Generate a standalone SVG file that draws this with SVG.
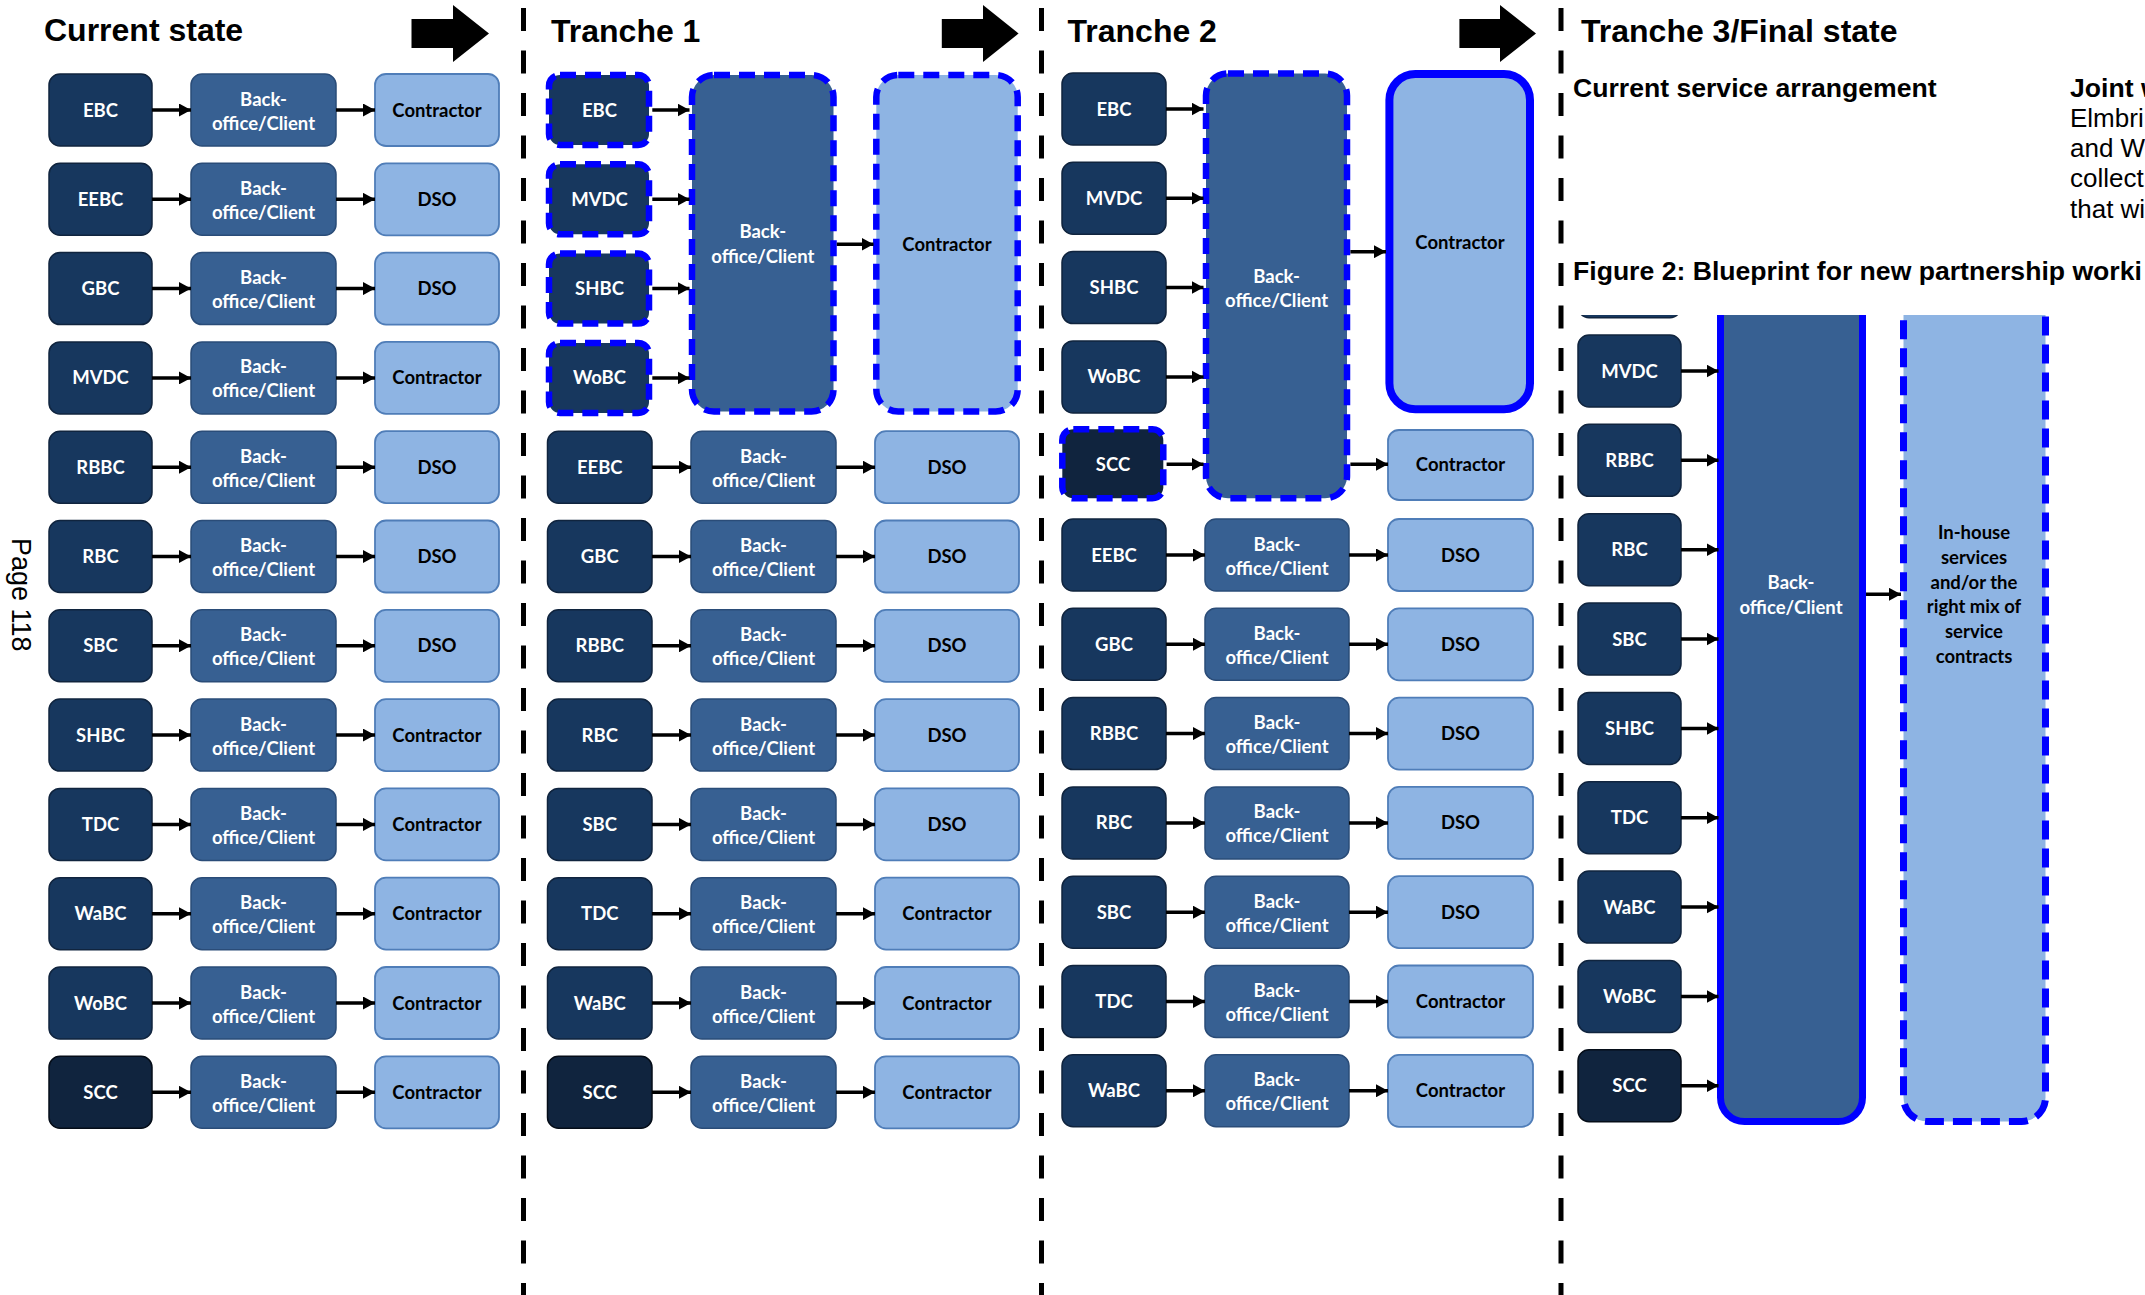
<svg xmlns="http://www.w3.org/2000/svg" width="2145" height="1295" viewBox="0 0 2145 1295">
<defs>
<style>
.d{fill:#17375E;stroke:#10243E;stroke-width:1.5}
.s{fill:#10243E;stroke:#050D18;stroke-width:1.5}
.b{fill:#376092;stroke:#2A4C78;stroke-width:1.5}
.l{fill:#8EB4E3;stroke:#4F7DB8;stroke-width:1.8}
.dd{fill:#17375E;stroke:#0000FF;stroke-width:6.5;stroke-dasharray:16 9}
.ds{fill:#10243E;stroke:#0000FF;stroke-width:6.5;stroke-dasharray:16 9}
.db{fill:#376092;stroke:#0000FF;stroke-width:6.5;stroke-dasharray:16 9}
.dl{fill:#8EB4E3;stroke:#0000FF;stroke-width:6.5;stroke-dasharray:16 9}
.t{font-family:Lato,'Liberation Sans',sans-serif;font-weight:700;font-size:18.5px;text-anchor:middle}
.w{fill:#FFFFFF}
.k{fill:#000000}
.h{font-family:'Liberation Sans',Arial,sans-serif;font-weight:700;font-size:32px;fill:#000}
.p{font-family:'Liberation Sans',Arial,sans-serif;font-size:26px;fill:#000}
.pb{font-family:'Liberation Sans',Arial,sans-serif;font-weight:700;font-size:26.6px;fill:#000}
.c line{stroke:#000;stroke-width:3.5;marker-end:url(#a)}
.div{stroke:#000;stroke-width:5;stroke-dasharray:23 19.5}
</style>
<marker id="a" markerUnits="userSpaceOnUse" markerWidth="12" markerHeight="13" refX="12" refY="6.5" orient="auto">
<path d="M0,0 L12,6.5 L0,13 z" fill="#000"/>
</marker>
<clipPath id="fc"><rect x="1565" y="315" width="580" height="980"/></clipPath>
</defs>
<rect width="2145" height="1295" fill="#FFFFFF"/>

<g id="dividers">
<line class="div" x1="523.5" y1="8" x2="523.5" y2="1295"/>
<line class="div" x1="1041.5" y1="8" x2="1041.5" y2="1295"/>
<line class="div" x1="1561" y1="8" x2="1561" y2="1295"/>
</g>

<g id="titles">
<text class="h" x="44" y="41">Current state</text>
<text class="h" x="551" y="42">Tranche 1</text>
<text class="h" x="1067.5" y="42">Tranche 2</text>
<text class="h" x="1581" y="42">Tranche 3/Final state</text>
<text class="pb" x="1573" y="97">Current service arrangement</text>
<text class="pb" x="2070" y="97">Joint w</text>
<text class="p" x="2070" y="127">Elmbri</text>
<text class="p" x="2070" y="157">and W</text>
<text class="p" x="2070" y="187">collect</text>
<text class="p" x="2070" y="218">that wi</text>
<text class="pb" x="1573" y="280">Figure 2: Blueprint for new partnership worki</text>
<text class="p" style="font-size:27px" transform="translate(12,538) rotate(90)">Page 118</text>
</g>

<g id="transition-arrows" fill="#000">
<path d="M411.5,19 H453 V5 L489,33.5 L453,62 V48 H411.5 z"/>
<path d="M941.8,19 H983 V5 L1018.6,33.5 L983,62 V48 H941.8 z"/>
<path d="M1459.4,19 H1500 V5 L1536,33.5 L1500,62 V48 H1459.4 z"/>
</g>

<!-- Current state -->
<g id="cs-ebc"><rect class="d" x="49" y="74" width="103" height="72" rx="11"/><text class="t w" x="100.5" y="116.5">EBC</text></g>
<g id="cs-bo1"><rect class="b" x="191" y="74" width="145" height="72" rx="11"/><text class="t w" x="263.5" y="105.5">Back-<tspan x="263.5" dy="24">office/Client</tspan></text></g>
<g id="cs-r1"><rect class="l" x="375" y="74" width="124" height="72" rx="11"/><text class="t k" x="437" y="116.5">Contractor</text></g>

<g id="cs-eebc"><rect class="d" x="49" y="163.3" width="103" height="72" rx="11"/><text class="t w" x="100.5" y="205.8">EEBC</text></g>
<g id="cs-bo2"><rect class="b" x="191" y="163.3" width="145" height="72" rx="11"/><text class="t w" x="263.5" y="194.8">Back-<tspan x="263.5" dy="24">office/Client</tspan></text></g>
<g id="cs-r2"><rect class="l" x="375" y="163.3" width="124" height="72" rx="11"/><text class="t k" x="437" y="205.8">DSO</text></g>

<g id="cs-gbc"><rect class="d" x="49" y="252.6" width="103" height="72" rx="11"/><text class="t w" x="100.5" y="295.1">GBC</text></g>
<g id="cs-bo3"><rect class="b" x="191" y="252.6" width="145" height="72" rx="11"/><text class="t w" x="263.5" y="284.1">Back-<tspan x="263.5" dy="24">office/Client</tspan></text></g>
<g id="cs-r3"><rect class="l" x="375" y="252.6" width="124" height="72" rx="11"/><text class="t k" x="437" y="295.1">DSO</text></g>

<g id="cs-mvdc"><rect class="d" x="49" y="341.9" width="103" height="72" rx="11"/><text class="t w" x="100.5" y="384.4">MVDC</text></g>
<g id="cs-bo4"><rect class="b" x="191" y="341.9" width="145" height="72" rx="11"/><text class="t w" x="263.5" y="373.4">Back-<tspan x="263.5" dy="24">office/Client</tspan></text></g>
<g id="cs-r4"><rect class="l" x="375" y="341.9" width="124" height="72" rx="11"/><text class="t k" x="437" y="384.4">Contractor</text></g>

<g id="cs-rbbc"><rect class="d" x="49" y="431.2" width="103" height="72" rx="11"/><text class="t w" x="100.5" y="473.7">RBBC</text></g>
<g id="cs-bo5"><rect class="b" x="191" y="431.2" width="145" height="72" rx="11"/><text class="t w" x="263.5" y="462.7">Back-<tspan x="263.5" dy="24">office/Client</tspan></text></g>
<g id="cs-r5"><rect class="l" x="375" y="431.2" width="124" height="72" rx="11"/><text class="t k" x="437" y="473.7">DSO</text></g>

<g id="cs-rbc"><rect class="d" x="49" y="520.5" width="103" height="72" rx="11"/><text class="t w" x="100.5" y="563">RBC</text></g>
<g id="cs-bo6"><rect class="b" x="191" y="520.5" width="145" height="72" rx="11"/><text class="t w" x="263.5" y="552">Back-<tspan x="263.5" dy="24">office/Client</tspan></text></g>
<g id="cs-r6"><rect class="l" x="375" y="520.5" width="124" height="72" rx="11"/><text class="t k" x="437" y="563">DSO</text></g>

<g id="cs-sbc"><rect class="d" x="49" y="609.8" width="103" height="72" rx="11"/><text class="t w" x="100.5" y="652.3">SBC</text></g>
<g id="cs-bo7"><rect class="b" x="191" y="609.8" width="145" height="72" rx="11"/><text class="t w" x="263.5" y="641.3">Back-<tspan x="263.5" dy="24">office/Client</tspan></text></g>
<g id="cs-r7"><rect class="l" x="375" y="609.8" width="124" height="72" rx="11"/><text class="t k" x="437" y="652.3">DSO</text></g>

<g id="cs-shbc"><rect class="d" x="49" y="699.1" width="103" height="72" rx="11"/><text class="t w" x="100.5" y="741.6">SHBC</text></g>
<g id="cs-bo8"><rect class="b" x="191" y="699.1" width="145" height="72" rx="11"/><text class="t w" x="263.5" y="730.6">Back-<tspan x="263.5" dy="24">office/Client</tspan></text></g>
<g id="cs-r8"><rect class="l" x="375" y="699.1" width="124" height="72" rx="11"/><text class="t k" x="437" y="741.6">Contractor</text></g>

<g id="cs-tdc"><rect class="d" x="49" y="788.4" width="103" height="72" rx="11"/><text class="t w" x="100.5" y="830.9">TDC</text></g>
<g id="cs-bo9"><rect class="b" x="191" y="788.4" width="145" height="72" rx="11"/><text class="t w" x="263.5" y="819.9">Back-<tspan x="263.5" dy="24">office/Client</tspan></text></g>
<g id="cs-r9"><rect class="l" x="375" y="788.4" width="124" height="72" rx="11"/><text class="t k" x="437" y="830.9">Contractor</text></g>

<g id="cs-wabc"><rect class="d" x="49" y="877.7" width="103" height="72" rx="11"/><text class="t w" x="100.5" y="920.2">WaBC</text></g>
<g id="cs-bo10"><rect class="b" x="191" y="877.7" width="145" height="72" rx="11"/><text class="t w" x="263.5" y="909.2">Back-<tspan x="263.5" dy="24">office/Client</tspan></text></g>
<g id="cs-r10"><rect class="l" x="375" y="877.7" width="124" height="72" rx="11"/><text class="t k" x="437" y="920.2">Contractor</text></g>

<g id="cs-wobc"><rect class="d" x="49" y="967" width="103" height="72" rx="11"/><text class="t w" x="100.5" y="1009.5">WoBC</text></g>
<g id="cs-bo11"><rect class="b" x="191" y="967" width="145" height="72" rx="11"/><text class="t w" x="263.5" y="998.5">Back-<tspan x="263.5" dy="24">office/Client</tspan></text></g>
<g id="cs-r11"><rect class="l" x="375" y="967" width="124" height="72" rx="11"/><text class="t k" x="437" y="1009.5">Contractor</text></g>

<g id="cs-scc"><rect class="s" x="49" y="1056.3" width="103" height="72" rx="11"/><text class="t w" x="100.5" y="1098.8">SCC</text></g>
<g id="cs-bo12"><rect class="b" x="191" y="1056.3" width="145" height="72" rx="11"/><text class="t w" x="263.5" y="1087.8">Back-<tspan x="263.5" dy="24">office/Client</tspan></text></g>
<g id="cs-r12"><rect class="l" x="375" y="1056.3" width="124" height="72" rx="11"/><text class="t k" x="437" y="1098.8">Contractor</text></g>

<!-- Tranche 1 -->
<g id="t1-ebc"><rect class="dd" x="549" y="75" width="100" height="70" rx="11"/><text class="t w" x="599.5" y="116.5">EBC</text></g>
<g id="t1-mvdc"><rect class="dd" x="549" y="164.3" width="100" height="70" rx="11"/><text class="t w" x="599.5" y="205.8">MVDC</text></g>
<g id="t1-shbc"><rect class="dd" x="549" y="253.6" width="100" height="70" rx="11"/><text class="t w" x="599.5" y="295.1">SHBC</text></g>
<g id="t1-wobc"><rect class="dd" x="549" y="342.9" width="100" height="70" rx="11"/><text class="t w" x="599.5" y="384.4">WoBC</text></g>
<g id="t1-bo-shared"><rect class="db" x="692" y="75" width="141.5" height="336.5" rx="22"/><text class="t w" x="762.8" y="238.3">Back-<tspan x="762.8" dy="24.5">office/Client</tspan></text></g>
<g id="t1-contractor-shared"><rect class="dl" x="876.3" y="75" width="141.4" height="336.5" rx="22"/><text class="t k" x="947" y="250.7">Contractor</text></g>

<g id="t1-eebc"><rect class="d" x="547.5" y="431.2" width="104.5" height="72" rx="11"/><text class="t w" x="599.75" y="473.7">EEBC</text></g>
<g id="t1-bo5"><rect class="b" x="691" y="431.2" width="145" height="72" rx="11"/><text class="t w" x="763.5" y="462.7">Back-<tspan x="763.5" dy="24">office/Client</tspan></text></g>
<g id="t1-r5"><rect class="l" x="875" y="431.2" width="144" height="72" rx="11"/><text class="t k" x="947" y="473.7">DSO</text></g>

<g id="t1-gbc"><rect class="d" x="547.5" y="520.5" width="104.5" height="72" rx="11"/><text class="t w" x="599.75" y="563">GBC</text></g>
<g id="t1-bo6"><rect class="b" x="691" y="520.5" width="145" height="72" rx="11"/><text class="t w" x="763.5" y="552">Back-<tspan x="763.5" dy="24">office/Client</tspan></text></g>
<g id="t1-r6"><rect class="l" x="875" y="520.5" width="144" height="72" rx="11"/><text class="t k" x="947" y="563">DSO</text></g>

<g id="t1-rbbc"><rect class="d" x="547.5" y="609.8" width="104.5" height="72" rx="11"/><text class="t w" x="599.75" y="652.3">RBBC</text></g>
<g id="t1-bo7"><rect class="b" x="691" y="609.8" width="145" height="72" rx="11"/><text class="t w" x="763.5" y="641.3">Back-<tspan x="763.5" dy="24">office/Client</tspan></text></g>
<g id="t1-r7"><rect class="l" x="875" y="609.8" width="144" height="72" rx="11"/><text class="t k" x="947" y="652.3">DSO</text></g>

<g id="t1-rbc"><rect class="d" x="547.5" y="699.1" width="104.5" height="72" rx="11"/><text class="t w" x="599.75" y="741.6">RBC</text></g>
<g id="t1-bo8"><rect class="b" x="691" y="699.1" width="145" height="72" rx="11"/><text class="t w" x="763.5" y="730.6">Back-<tspan x="763.5" dy="24">office/Client</tspan></text></g>
<g id="t1-r8"><rect class="l" x="875" y="699.1" width="144" height="72" rx="11"/><text class="t k" x="947" y="741.6">DSO</text></g>

<g id="t1-sbc"><rect class="d" x="547.5" y="788.4" width="104.5" height="72" rx="11"/><text class="t w" x="599.75" y="830.9">SBC</text></g>
<g id="t1-bo9"><rect class="b" x="691" y="788.4" width="145" height="72" rx="11"/><text class="t w" x="763.5" y="819.9">Back-<tspan x="763.5" dy="24">office/Client</tspan></text></g>
<g id="t1-r9"><rect class="l" x="875" y="788.4" width="144" height="72" rx="11"/><text class="t k" x="947" y="830.9">DSO</text></g>

<g id="t1-tdc"><rect class="d" x="547.5" y="877.7" width="104.5" height="72" rx="11"/><text class="t w" x="599.75" y="920.2">TDC</text></g>
<g id="t1-bo10"><rect class="b" x="691" y="877.7" width="145" height="72" rx="11"/><text class="t w" x="763.5" y="909.2">Back-<tspan x="763.5" dy="24">office/Client</tspan></text></g>
<g id="t1-r10"><rect class="l" x="875" y="877.7" width="144" height="72" rx="11"/><text class="t k" x="947" y="920.2">Contractor</text></g>

<g id="t1-wabc"><rect class="d" x="547.5" y="967" width="104.5" height="72" rx="11"/><text class="t w" x="599.75" y="1009.5">WaBC</text></g>
<g id="t1-bo11"><rect class="b" x="691" y="967" width="145" height="72" rx="11"/><text class="t w" x="763.5" y="998.5">Back-<tspan x="763.5" dy="24">office/Client</tspan></text></g>
<g id="t1-r11"><rect class="l" x="875" y="967" width="144" height="72" rx="11"/><text class="t k" x="947" y="1009.5">Contractor</text></g>

<g id="t1-scc"><rect class="s" x="547.5" y="1056.3" width="104.5" height="72" rx="11"/><text class="t w" x="599.75" y="1098.8">SCC</text></g>
<g id="t1-bo12"><rect class="b" x="691" y="1056.3" width="145" height="72" rx="11"/><text class="t w" x="763.5" y="1087.8">Back-<tspan x="763.5" dy="24">office/Client</tspan></text></g>
<g id="t1-r12"><rect class="l" x="875" y="1056.3" width="144" height="72" rx="11"/><text class="t k" x="947" y="1098.8">Contractor</text></g>

<!-- Tranche 2 -->
<g id="t2-ebc"><rect class="d" x="1062" y="73" width="104" height="72" rx="11"/><text class="t w" x="1114" y="115.5">EBC</text></g>
<g id="t2-mvdc"><rect class="d" x="1062" y="162.3" width="104" height="72" rx="11"/><text class="t w" x="1114" y="204.8">MVDC</text></g>
<g id="t2-shbc"><rect class="d" x="1062" y="251.6" width="104" height="72" rx="11"/><text class="t w" x="1114" y="294.1">SHBC</text></g>
<g id="t2-wobc"><rect class="d" x="1062" y="340.9" width="104" height="72" rx="11"/><text class="t w" x="1114" y="383.4">WoBC</text></g>
<g id="t2-scc"><rect class="ds" x="1062.3" y="429.3" width="101" height="69" rx="11"/><text class="t w" x="1113" y="470.8">SCC</text></g>
<g id="t2-bo-shared"><rect class="db" x="1206" y="73.5" width="141" height="424.7" rx="22"/><text class="t w" x="1276.6" y="282.5">Back-<tspan x="1276.6" dy="24">office/Client</tspan></text></g>
<g id="t2-contractor-shared"><rect x="1389.4" y="74" width="140.6" height="335.3" rx="26" fill="#8EB4E3" stroke="#0000FF" stroke-width="8"/><text class="t k" x="1460" y="249">Contractor</text></g>
<g id="t2-contractor-scc"><rect class="l" x="1388" y="430" width="145" height="70" rx="11"/><text class="t k" x="1460.5" y="471.3">Contractor</text></g>

<g id="t2-eebc"><rect class="d" x="1062" y="519" width="104" height="72" rx="11"/><text class="t w" x="1114" y="561.5">EEBC</text></g>
<g id="t2-bo6"><rect class="b" x="1205" y="519" width="144" height="72" rx="11"/><text class="t w" x="1277" y="550.5">Back-<tspan x="1277" dy="24">office/Client</tspan></text></g>
<g id="t2-r6"><rect class="l" x="1388" y="519" width="145" height="72" rx="11"/><text class="t k" x="1460.5" y="561.5">DSO</text></g>

<g id="t2-gbc"><rect class="d" x="1062" y="608.3" width="104" height="72" rx="11"/><text class="t w" x="1114" y="650.8">GBC</text></g>
<g id="t2-bo7"><rect class="b" x="1205" y="608.3" width="144" height="72" rx="11"/><text class="t w" x="1277" y="639.8">Back-<tspan x="1277" dy="24">office/Client</tspan></text></g>
<g id="t2-r7"><rect class="l" x="1388" y="608.3" width="145" height="72" rx="11"/><text class="t k" x="1460.5" y="650.8">DSO</text></g>

<g id="t2-rbbc"><rect class="d" x="1062" y="697.6" width="104" height="72" rx="11"/><text class="t w" x="1114" y="740.1">RBBC</text></g>
<g id="t2-bo8"><rect class="b" x="1205" y="697.6" width="144" height="72" rx="11"/><text class="t w" x="1277" y="729.1">Back-<tspan x="1277" dy="24">office/Client</tspan></text></g>
<g id="t2-r8"><rect class="l" x="1388" y="697.6" width="145" height="72" rx="11"/><text class="t k" x="1460.5" y="740.1">DSO</text></g>

<g id="t2-rbc"><rect class="d" x="1062" y="786.9" width="104" height="72" rx="11"/><text class="t w" x="1114" y="829.4">RBC</text></g>
<g id="t2-bo9"><rect class="b" x="1205" y="786.9" width="144" height="72" rx="11"/><text class="t w" x="1277" y="818.4">Back-<tspan x="1277" dy="24">office/Client</tspan></text></g>
<g id="t2-r9"><rect class="l" x="1388" y="786.9" width="145" height="72" rx="11"/><text class="t k" x="1460.5" y="829.4">DSO</text></g>

<g id="t2-sbc"><rect class="d" x="1062" y="876.2" width="104" height="72" rx="11"/><text class="t w" x="1114" y="918.7">SBC</text></g>
<g id="t2-bo10"><rect class="b" x="1205" y="876.2" width="144" height="72" rx="11"/><text class="t w" x="1277" y="907.7">Back-<tspan x="1277" dy="24">office/Client</tspan></text></g>
<g id="t2-r10"><rect class="l" x="1388" y="876.2" width="145" height="72" rx="11"/><text class="t k" x="1460.5" y="918.7">DSO</text></g>

<g id="t2-tdc"><rect class="d" x="1062" y="965.5" width="104" height="72" rx="11"/><text class="t w" x="1114" y="1008">TDC</text></g>
<g id="t2-bo11"><rect class="b" x="1205" y="965.5" width="144" height="72" rx="11"/><text class="t w" x="1277" y="997">Back-<tspan x="1277" dy="24">office/Client</tspan></text></g>
<g id="t2-r11"><rect class="l" x="1388" y="965.5" width="145" height="72" rx="11"/><text class="t k" x="1460.5" y="1008">Contractor</text></g>

<g id="t2-wabc"><rect class="d" x="1062" y="1054.8" width="104" height="72" rx="11"/><text class="t w" x="1114" y="1097.3">WaBC</text></g>
<g id="t2-bo12"><rect class="b" x="1205" y="1054.8" width="144" height="72" rx="11"/><text class="t w" x="1277" y="1086.3">Back-<tspan x="1277" dy="24">office/Client</tspan></text></g>
<g id="t2-r12"><rect class="l" x="1388" y="1054.8" width="145" height="72" rx="11"/><text class="t k" x="1460.5" y="1097.3">Contractor</text></g>

<!-- Tranche 3 / Final state (cropped figure) -->
<g id="final" clip-path="url(#fc)">
<g id="f-top"><rect class="d" x="1578" y="245.65" width="103" height="72" rx="11"/></g>
<g id="f-mvdc"><rect class="d" x="1578" y="335" width="103" height="72" rx="11"/><text class="t w" x="1629.5" y="377.5">MVDC</text></g>
<g id="f-rbbc"><rect class="d" x="1578" y="424.35" width="103" height="72" rx="11"/><text class="t w" x="1629.5" y="466.85">RBBC</text></g>
<g id="f-rbc"><rect class="d" x="1578" y="513.7" width="103" height="72" rx="11"/><text class="t w" x="1629.5" y="556.2">RBC</text></g>
<g id="f-sbc"><rect class="d" x="1578" y="603.05" width="103" height="72" rx="11"/><text class="t w" x="1629.5" y="645.55">SBC</text></g>
<g id="f-shbc"><rect class="d" x="1578" y="692.4" width="103" height="72" rx="11"/><text class="t w" x="1629.5" y="734.9">SHBC</text></g>
<g id="f-tdc"><rect class="d" x="1578" y="781.75" width="103" height="72" rx="11"/><text class="t w" x="1629.5" y="824.25">TDC</text></g>
<g id="f-wabc"><rect class="d" x="1578" y="871.1" width="103" height="72" rx="11"/><text class="t w" x="1629.5" y="913.6">WaBC</text></g>
<g id="f-wobc"><rect class="d" x="1578" y="960.45" width="103" height="72" rx="11"/><text class="t w" x="1629.5" y="1002.95">WoBC</text></g>
<g id="f-scc"><rect class="s" x="1578" y="1049.8" width="103" height="72" rx="11"/><text class="t w" x="1629.5" y="1092.3">SCC</text></g>
<g id="f-bo"><rect x="1720.5" y="200" width="142" height="921.5" rx="24" fill="#376092" stroke="#0000FF" stroke-width="7"/><text class="t w" x="1791" y="589">Back-<tspan x="1791" dy="24.5">office/Client</tspan></text></g>
<g id="f-services"><rect x="1903.5" y="200" width="142" height="921.5" rx="24" fill="#8EB4E3" stroke="#0000FF" stroke-width="7" stroke-dasharray="19 9"/><text class="t k" x="1974" y="539.3">In-house<tspan x="1974" dy="24.7">services</tspan><tspan x="1974" dy="24.7">and/or the</tspan><tspan x="1974" dy="24.7">right mix of</tspan><tspan x="1974" dy="24.7">service</tspan><tspan x="1974" dy="24.7">contracts</tspan></text></g>
</g>

<g id="connectors" class="c">
<line x1="152" y1="110" x2="191" y2="110"/><line x1="336" y1="110" x2="375" y2="110"/>
<line x1="152" y1="199.3" x2="191" y2="199.3"/><line x1="336" y1="199.3" x2="375" y2="199.3"/>
<line x1="152" y1="288.6" x2="191" y2="288.6"/><line x1="336" y1="288.6" x2="375" y2="288.6"/>
<line x1="152" y1="377.9" x2="191" y2="377.9"/><line x1="336" y1="377.9" x2="375" y2="377.9"/>
<line x1="152" y1="467.2" x2="191" y2="467.2"/><line x1="336" y1="467.2" x2="375" y2="467.2"/>
<line x1="152" y1="556.5" x2="191" y2="556.5"/><line x1="336" y1="556.5" x2="375" y2="556.5"/>
<line x1="152" y1="645.8" x2="191" y2="645.8"/><line x1="336" y1="645.8" x2="375" y2="645.8"/>
<line x1="152" y1="735.1" x2="191" y2="735.1"/><line x1="336" y1="735.1" x2="375" y2="735.1"/>
<line x1="152" y1="824.4" x2="191" y2="824.4"/><line x1="336" y1="824.4" x2="375" y2="824.4"/>
<line x1="152" y1="913.7" x2="191" y2="913.7"/><line x1="336" y1="913.7" x2="375" y2="913.7"/>
<line x1="152" y1="1003" x2="191" y2="1003"/><line x1="336" y1="1003" x2="375" y2="1003"/>
<line x1="152" y1="1092.3" x2="191" y2="1092.3"/><line x1="336" y1="1092.3" x2="375" y2="1092.3"/>
<line x1="652.3" y1="110" x2="689.5" y2="110"/>
<line x1="652.3" y1="199.3" x2="689.5" y2="199.3"/>
<line x1="652.3" y1="288.6" x2="689.5" y2="288.6"/>
<line x1="652.3" y1="377.9" x2="689.5" y2="377.9"/>
<line x1="836.8" y1="244.3" x2="873.5" y2="244.3"/>
<line x1="652" y1="467.2" x2="691" y2="467.2"/><line x1="836" y1="467.2" x2="875" y2="467.2"/>
<line x1="652" y1="556.5" x2="691" y2="556.5"/><line x1="836" y1="556.5" x2="875" y2="556.5"/>
<line x1="652" y1="645.8" x2="691" y2="645.8"/><line x1="836" y1="645.8" x2="875" y2="645.8"/>
<line x1="652" y1="735.1" x2="691" y2="735.1"/><line x1="836" y1="735.1" x2="875" y2="735.1"/>
<line x1="652" y1="824.4" x2="691" y2="824.4"/><line x1="836" y1="824.4" x2="875" y2="824.4"/>
<line x1="652" y1="913.7" x2="691" y2="913.7"/><line x1="836" y1="913.7" x2="875" y2="913.7"/>
<line x1="652" y1="1003" x2="691" y2="1003"/><line x1="836" y1="1003" x2="875" y2="1003"/>
<line x1="652" y1="1092.3" x2="691" y2="1092.3"/><line x1="836" y1="1092.3" x2="875" y2="1092.3"/>
<line x1="1166" y1="109" x2="1203.5" y2="109"/>
<line x1="1166" y1="198.3" x2="1203.5" y2="198.3"/>
<line x1="1166" y1="287.6" x2="1203.5" y2="287.6"/>
<line x1="1166" y1="376.9" x2="1203.5" y2="376.9"/>
<line x1="1166.6" y1="464.3" x2="1203.5" y2="464.3"/>
<line x1="1350.4" y1="251.7" x2="1386" y2="251.7"/>
<line x1="1350.4" y1="464.3" x2="1388" y2="464.3"/>
<line x1="1166" y1="555" x2="1205" y2="555"/><line x1="1349" y1="555" x2="1388" y2="555"/>
<line x1="1166" y1="644.3" x2="1205" y2="644.3"/><line x1="1349" y1="644.3" x2="1388" y2="644.3"/>
<line x1="1166" y1="733.6" x2="1205" y2="733.6"/><line x1="1349" y1="733.6" x2="1388" y2="733.6"/>
<line x1="1166" y1="822.9" x2="1205" y2="822.9"/><line x1="1349" y1="822.9" x2="1388" y2="822.9"/>
<line x1="1166" y1="912.2" x2="1205" y2="912.2"/><line x1="1349" y1="912.2" x2="1388" y2="912.2"/>
<line x1="1166" y1="1001.5" x2="1205" y2="1001.5"/><line x1="1349" y1="1001.5" x2="1388" y2="1001.5"/>
<line x1="1166" y1="1090.8" x2="1205" y2="1090.8"/><line x1="1349" y1="1090.8" x2="1388" y2="1090.8"/>
<line x1="1681" y1="371" x2="1718.5" y2="371"/>
<line x1="1681" y1="460.35" x2="1718.5" y2="460.35"/>
<line x1="1681" y1="549.7" x2="1718.5" y2="549.7"/>
<line x1="1681" y1="639.05" x2="1718.5" y2="639.05"/>
<line x1="1681" y1="728.4" x2="1718.5" y2="728.4"/>
<line x1="1681" y1="817.75" x2="1718.5" y2="817.75"/>
<line x1="1681" y1="907.1" x2="1718.5" y2="907.1"/>
<line x1="1681" y1="996.45" x2="1718.5" y2="996.45"/>
<line x1="1681" y1="1085.8" x2="1718.5" y2="1085.8"/>
<line x1="1866" y1="594.3" x2="1901" y2="594.3"/>
</g>
</svg>
